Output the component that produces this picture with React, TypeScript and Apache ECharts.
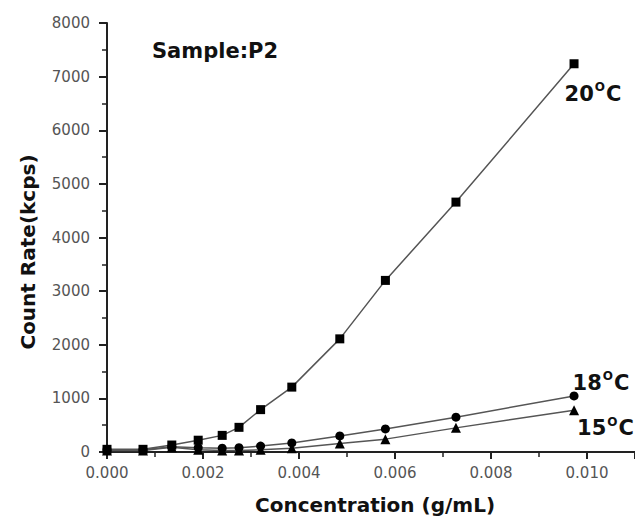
import React, { useEffect, useRef } from "react";
import * as echarts from "echarts";

const concentration = [0.0, 0.00075, 0.00135, 0.0019, 0.0024, 0.00275, 0.0032, 0.00385, 0.00485, 0.0058, 0.00727, 0.00973];
const rate20 = [50, 50, 130, 220, 310, 460, 790, 1210, 2110, 3200, 4660, 7240];
const rate18 = [40, 40, 100, 80, 70, 80, 110, 170, 300, 430, 650, 1045];
const rate15 = [30, 30, 90, 40, 30, 30, 40, 70, 160, 240, 450, 780];
const seriesNames = ["20", "18", "15"];
const sampleLabel = "Sample:P2";
const xTitle = "Concentration (g/mL)";
const yTitle = "Count Rate(kcps)";

const FONT = "DejaVu Sans";

function makeSeries(name: string, values: number[], symbol: string, size: number, offset: number[]) {
  const data: any[] = concentration.map((c, i) => [c, values[i]]);
  const last = data.length - 1;
  data[last] = {
    value: data[last],
    label: {
      show: true,
      position: "right",
      distance: 0,
      offset,
      formatter: "{n|" + name + "}{s|O}{n|C}",
      rich: {
        n: { fontSize: 21, fontWeight: "bold", fontFamily: FONT, color: "#111" },
        s: { fontSize: 12, fontWeight: "bold", fontFamily: FONT, color: "#111", padding: [0, 1, 13, 1] },
      },
    },
  };
  return {
    type: "line",
    name,
    data,
    symbol,
    symbolSize: size,
    showAllSymbol: true,
    lineStyle: { color: "#555", width: 1.5 },
    itemStyle: { color: "#000" },
    z: 3,
  };
}

export default function App() {
  const ref = useRef<HTMLDivElement>(null);
  useEffect(() => {
    const chart = echarts.init(ref.current!, null, { renderer: "svg" });
    chart.setOption({
      animation: false,
      backgroundColor: "#fff",
      grid: { left: 107, right: 0, top: 23, bottom: 69, containLabel: false },
      xAxis: {
        type: "value",
        min: 0,
        max: 0.011,
        interval: 0.002,
        axisLine: { show: true, lineStyle: { color: "#222", width: 2 } },
        axisTick: { show: true, length: 7, lineStyle: { color: "#222", width: 2 } },
        minorTick: { show: true, splitNumber: 2, length: 5, lineStyle: { color: "#222", width: 1.5 } },
        splitLine: { show: false },
        axisLabel: {
          showMaxLabel: false,
          margin: 13,
          fontSize: 15,
          fontFamily: FONT,
          color: "#555",
          formatter: (v: number) => v.toFixed(3),
        },
      },
      yAxis: {
        type: "value",
        min: 0,
        max: 8000,
        interval: 1000,
        axisLine: { show: true, lineStyle: { color: "#222", width: 2 } },
        axisTick: { show: true, length: 8, lineStyle: { color: "#222", width: 2 } },
        minorTick: { show: true, splitNumber: 2, length: 5, lineStyle: { color: "#222", width: 1.5 } },
        splitLine: { show: false },
        axisLabel: {
          margin: 17,
          fontSize: 15,
          fontFamily: FONT,
          color: "#555",
          formatter: (v: number) => String(v),
        },
      },
      graphic: [
        {
          type: "text",
          left: 152,
          top: 40,
          style: { text: sampleLabel, font: "bold 21px 'DejaVu Sans'", fill: "#111" },
        },
        {
          type: "text",
          x: 375,
          y: 505,
          style: { text: xTitle, font: "bold 20px 'DejaVu Sans'", fill: "#111", textAlign: "center", textVerticalAlign: "middle" },
        },
        {
          type: "text",
          x: 28,
          y: 252,
          rotation: Math.PI / 2,
          style: { text: yTitle, font: "bold 20px 'DejaVu Sans'", fill: "#111", textAlign: "center", textVerticalAlign: "middle" },
        },
      ],
      series: [
        makeSeries(seriesNames[0], rate20, "rect", 9, [-14, 30]),
        makeSeries(seriesNames[1], rate18, "circle", 9, [-6, -13]),
        makeSeries(seriesNames[2], rate15, "triangle", 10, [-2, 18]),
      ],
    });
    return () => chart.dispose();
  }, []);
  return <div ref={ref} style={{ position: "fixed", left: 0, top: 0, width: 635, height: 521 }} />;
}
